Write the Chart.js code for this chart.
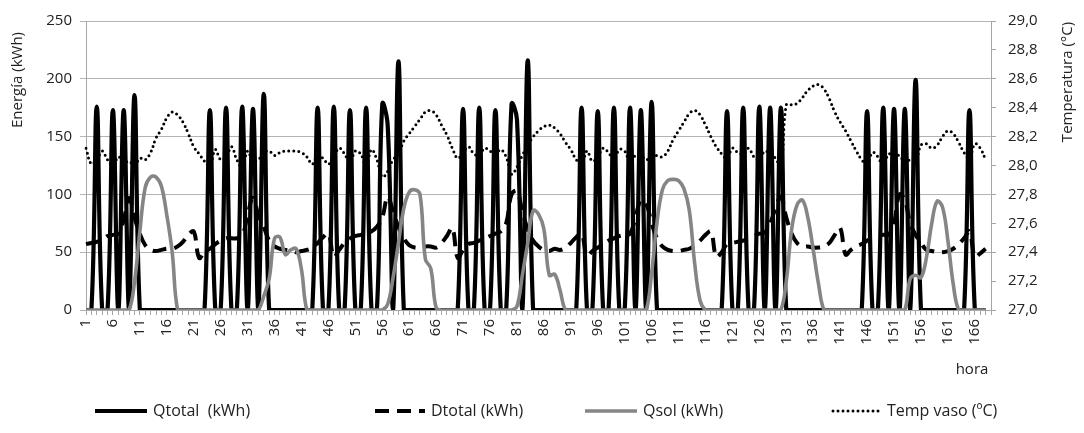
<!DOCTYPE html>
<html><head><meta charset="utf-8">
<script src="https://cdn.jsdelivr.net/npm/chart.js@4.4.1/dist/chart.umd.min.js"></script>
<style>html,body{margin:0;padding:0;background:#fff;}#wrap{width:1084px;height:433px;position:relative;}</style>
</head><body><div id="wrap"><canvas id="c" width="1084" height="433"></canvas></div>
<script>
// categories: hours (169 category slots, data for 168)
const hours = Array.from({length:169}, (_, i) => String(i + 1));
const seriesNames = ['Qtotal  (kWh)', 'Dtotal (kWh)', 'Qsol (kWh)', 'Temp vaso (ºC)'];
const leftTicks = [0, 50, 100, 150, 200, 250];
const rightTicks = ['27,0','27,2','27,4','27,6','27,8','28,0','28,2','28,4','28,6','28,8','29,0'];

const qTotal = [
0,0,176,0,0,173,0,173,0,186,0,0,0,0,0,0,0,0,0,0,0,0,0,173,
0,0,175,0,0,176,0,174,0,187,0,0,0,0,0,0,0,0,0,175,0,0,176,0,
0,173,0,0,175,0,0,178,160,0,215,0,0,0,0,0,0,0,0,0,0,0,174,0,
0,175,0,0,173,0,0,178,165,0,216,0,0,0,0,0,0,0,0,0,175,0,0,172,
0,0,175,0,0,175,0,173,0,180,0,0,0,0,0,0,0,0,0,0,0,0,0,172,
0,0,175,0,0,176,0,175,0,175,0,0,0,0,0,0,0,0,0,0,0,0,0,0,
0,172,0,0,175,0,174,0,174,0,199,0,0,0,0,0,0,0,0,0,173,0,0,0];

const dTotal = [
57,58,59,61,64,65,66,78,97,80,66,56,52,51,52,53,53,55,59,65,68,45,50,53,
57,60,62,62,62,64,82,97,82,72,60,55,53,52,51,50,51,52,54,58,63,66,46,52,
58,62,64,65,66,68,72,80,98,85,72,62,56,54,54,55,55,54,58,64,71,45,52,57,
58,60,62,64,66,68,75,100,103,85,70,60,55,52,51,53,52,54,58,63,66,47,51,54,
57,60,62,64,65,66,80,95,92,75,62,55,52,51,51,52,53,56,60,65,68,46,50,57,
58,59,60,62,64,66,67,75,88,98,80,66,58,55,55,54,54,55,58,65,71,48,52,55,
57,60,62,64,65,65,75,100,95,75,65,58,52,51,50,50,51,53,57,62,68,46,49,53];

const qSol = [
0,0,0,0,0,0,0,0,0,24,68,106,115,115,107,82,50,0,0,0,0,0,0,0,
0,0,0,0,0,0,0,0,0,12,27,62,63,48,52,53,35,0,0,0,0,0,0,0,
0,0,0,0,0,0,0,0,5,28,58,88,102,104,100,44,36,2,0,0,0,0,0,0,
0,0,0,0,0,0,0,0,3,30,58,86,83,70,30,31,17,0,0,0,0,0,0,0,
0,0,0,0,0,0,0,0,0,32,76,104,112,113,112,105,86,40,8,0,0,0,0,0,
0,0,0,0,0,0,0,0,0,0,25,70,91,95,80,52,22,0,0,0,0,0,0,0,
0,0,0,0,0,0,0,0,0,27,30,28,45,75,94,89,60,22,0,0,0,0,0,0];

const tempVaso = [
28.12,28.01,28.04,28.10,28.04,28.00,28.06,28.02,28.03,28.00,28.05,28.04,28.09,28.19,28.25,28.33,28.37,28.35,28.30,28.22,28.13,28.08,28.03,28.00,
28.11,28.04,28.06,28.13,28.04,27.99,28.10,28.03,28.04,28.09,28.10,28.07,28.09,28.10,28.10,28.10,28.09,28.06,28.01,28.07,28.05,28.01,28.06,28.12,
28.08,28.02,28.10,28.08,28.00,28.11,28.04,27.92,27.96,28.04,28.08,28.17,28.22,28.27,28.32,28.37,28.38,28.35,28.28,28.21,28.12,28.05,28.09,28.13,
28.08,28.07,28.12,28.10,28.08,28.11,28.06,27.94,27.99,28.07,28.14,28.20,28.24,28.27,28.28,28.26,28.22,28.16,28.11,28.04,28.01,28.10,28.03,28.06,
28.12,28.09,28.04,28.11,28.10,28.02,28.07,28.07,28.04,28.06,28.07,28.06,28.10,28.18,28.24,28.30,28.36,28.38,28.35,28.28,28.20,28.13,28.08,28.05,
28.12,28.09,28.08,28.12,28.06,28.04,28.10,28.08,28.05,27.99,28.42,28.42,28.43,28.47,28.52,28.55,28.56,28.53,28.46,28.37,28.30,28.24,28.17,28.10,
28.04,28.01,28.09,28.06,28.00,28.08,28.06,28.07,28.02,28.04,28.03,28.14,28.15,28.12,28.14,28.20,28.24,28.22,28.16,28.09,28.05,28.15,28.12,28.04];

const FONT = 'Open Sans';
const TXT = '#222';
const AXIS = '#a6a6a6';

const decor = {
  id: 'decor',
  afterDraw(chart) {
    const c = chart.ctx;
    c.save();
    c.fillStyle = TXT;
    c.font = '15px "' + FONT + '"';
    c.textAlign = 'center';
    c.textBaseline = 'middle';
    c.save(); c.translate(18, 80); c.rotate(-Math.PI/2); c.fillText('Energía (kWh)', 0, 0); c.restore();
    c.save(); c.translate(1068, 82); c.rotate(-Math.PI/2); c.fillText('Temperatura (°C)', 0, 0); c.restore();
    c.fillText('hora', 972, 370);
    c.font = '16px "' + FONT + '"';
    const pos = [{x:95,w:52},{x:375,w:50},{x:585,w:52},{x:833,w:48}];
    const ly = 411;
    chart.data.datasets.forEach((ds, i) => {
      const p = pos[i];
      c.save();
      c.strokeStyle = ds.borderColor;
      c.lineWidth = ds.borderWidth;
      c.setLineDash(ds.borderDash || []);
      c.lineCap = ds.borderCapStyle || 'butt';
      c.beginPath(); c.moveTo(p.x, ly); c.lineTo(p.x + p.w, ly); c.stroke();
      c.restore();
      c.textAlign = 'left';
      c.fillText(ds.label, p.x + p.w + 6, ly);
    });
    c.restore();
  }
};

new Chart(document.getElementById('c'), {
  type: 'line',
  data: {
    labels: hours,
    datasets: [
      {label: seriesNames[0], data: qTotal, borderColor:'#000', borderWidth:4.2, yAxisID:'y', order:4},
      {label: seriesNames[1], data: dTotal, borderColor:'#000', borderWidth:4, borderDash:[14,8], yAxisID:'y', order:3},
      {label: seriesNames[2], data: qSol, borderColor:'#858585', borderWidth:3.6, yAxisID:'y', order:2},
      {label: seriesNames[3], data: tempVaso, borderColor:'#000', borderWidth:3, borderDash:[0,5], borderCapStyle:'round', yAxisID:'y1', order:1}
    ]
  },
  options: {
    responsive: false,
    animation: false,
    elements: {point:{radius:0}, line:{tension:0.4, fill:false}},
    layout: {padding:{top:16, bottom:43, left:0, right:0}},
    plugins: {legend:{display:false}, tooltip:{enabled:false}},
    scales: {
      x: {
        type:'category', offset:false,
        grid:{display:true, drawOnChartArea:false, drawTicks:true, tickLength:5, color:AXIS},
        border:{color:AXIS},
        ticks:{autoSkip:false, maxRotation:90, minRotation:90, padding:4, color:TXT, font:{family:FONT, size:15},
          callback:(v, i) => (i % 5 === 0 ? hours[i] : '')},
        afterFit: s => { s.height = 80; }
      },
      y: {
        position:'left', min:0, max:250,
        grid:{color:'#b3b3b3', tickLength:6},
        border:{color:AXIS},
        ticks:{stepSize:50, padding:8, color:TXT, font:{family:FONT, size:15},
          callback:(v) => leftTicks.includes(v) ? String(v) : ''},
        afterFit: s => { s.width = 86; }
      },
      y1: {
        position:'right', min:27, max:29,
        grid:{drawOnChartArea:false, tickLength:5, color:AXIS},
        border:{color:AXIS},
        ticks:{stepSize:0.2, padding:12, color:TXT, font:{family:FONT, size:15},
          callback:(v, i) => rightTicks[i]},
        afterFit: s => { s.width = 93; }
      }
    }
  },
  plugins: [decor]
});
</script></body></html>
